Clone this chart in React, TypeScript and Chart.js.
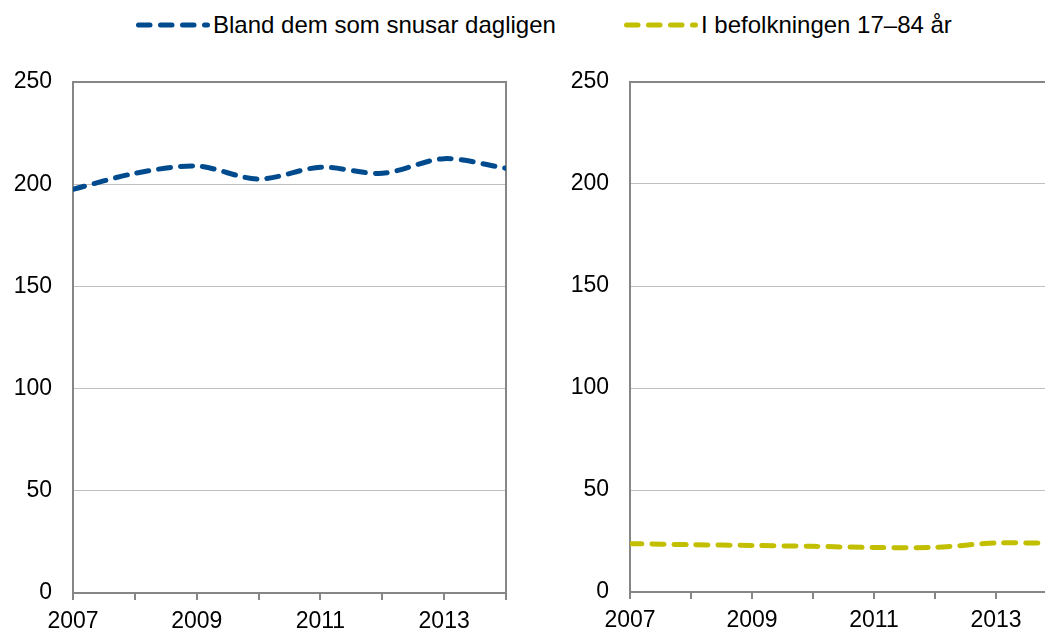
import React, { useEffect, useRef } from "react";
import { Chart, registerables } from "chart.js";

Chart.register(...registerables);

const years = [2007, 2008, 2009, 2010, 2011, 2012, 2013, 2014];
const dailyUsers = [197.5, 205.3, 208.9, 202.5, 208.3, 205.3, 212.5, 207.8];
const population = [23.7, 23.2, 22.8, 22.4, 21.8, 21.9, 24.0, 23.9];
const yTicks = [0, 50, 100, 150, 200, 250];
const seriesNames = ["Bland dem som snusar dagligen", "I befolkningen 17–84 år"];
const seriesColors = ["#004B8D", "#C2BF00"];

const FONT = "'Liberation Sans', Arial, sans-serif";
const AXIS = "#868686";
const GRID = "#C0C0C0";

const framePlugin = {
  id: "frame",
  beforeDatasetsDraw(chart: any) {
    const { ctx, chartArea } = chart;
    ctx.save();
    ctx.strokeStyle = AXIS;
    ctx.lineWidth = 2;
    ctx.beginPath();
    ctx.moveTo(chartArea.left, chartArea.top);
    ctx.lineTo(chartArea.right, chartArea.top);
    ctx.lineTo(chartArea.right, chartArea.bottom);
    ctx.stroke();
    ctx.restore();
  },
};

function makeConfig(values: number[], color: string, label: string, xHeight: number) {
  return {
    type: "line" as const,
    data: {
      datasets: [
        {
          label,
          data: years.map((y, i) => ({ x: y, y: values[i] })),
          borderColor: color,
          backgroundColor: color,
          borderWidth: 5,
          borderDash: [12, 10],
          borderCapStyle: "round" as const,
          pointRadius: 0,
          tension: 0.3,
          fill: false,
        },
      ],
    },
    options: {
      responsive: false,
      animation: false as const,
      devicePixelRatio: 1,
      layout: { padding: { top: 82, right: 14, left: 0, bottom: 0 } },
      plugins: { legend: { display: false }, tooltip: { enabled: false } },
      scales: {
        x: {
          type: "linear" as const,
          min: years[0],
          max: years[years.length - 1],
          afterFit: (s: any) => {
            s.height = xHeight;
          },
          ticks: {
            stepSize: 1,
            autoSkip: false,
            maxRotation: 0,
            padding: 8,
            color: "#000",
            font: { family: FONT, size: 23 },
            callback: (v: any) => (Number(v) % 2 === 1 ? String(v) : ""),
          },
          grid: { drawOnChartArea: false, drawTicks: true, tickLength: 7, color: AXIS, lineWidth: 2 },
          border: { display: true, color: AXIS, width: 2 },
        },
        y: {
          min: yTicks[0],
          max: yTicks[yTicks.length - 1],
          afterFit: (s: any) => {
            s.width = 73;
          },
          afterBuildTicks: (s: any) => {
            s.ticks = yTicks.map((v) => ({ value: v }));
          },
          ticks: {
            padding: 21,
            color: "#000",
            font: { family: FONT, size: 23 },
          },
          grid: { color: GRID, lineWidth: 1, drawTicks: false },
          border: { display: true, color: AXIS, width: 2 },
        },
      },
    },
    plugins: [framePlugin],
  };
}

function LegendItem({ left, color, text }: { left: number; color: string; text: string }) {
  return (
    <div
      style={{
        position: "absolute",
        left,
        top: 8,
        height: 34,
        display: "flex",
        alignItems: "center",
        fontFamily: FONT,
        fontSize: 24,
        color: "#000",
        whiteSpace: "nowrap",
      }}
    >
      <svg width={75} height={10} style={{ marginRight: 2 }}>
        <line
          x1={2.5}
          y1={5}
          x2={71.5}
          y2={5}
          stroke={color}
          strokeWidth={5}
          strokeLinecap="round"
          strokeDasharray="11.5 10.5"
        />
      </svg>
      <span>{text}</span>
    </div>
  );
}

export default function App() {
  const leftRef = useRef<HTMLCanvasElement>(null);
  const rightRef = useRef<HTMLCanvasElement>(null);

  useEffect(() => {
    const c1 = new Chart(leftRef.current!, makeConfig(dailyUsers, seriesColors[0], seriesNames[0], 38) as any);
    const c2 = new Chart(rightRef.current!, makeConfig(population, seriesColors[1], seriesNames[1], 39) as any);
    return () => {
      c1.destroy();
      c2.destroy();
    };
  }, []);

  return (
    <div
      style={{
        position: "fixed",
        left: 0,
        top: 0,
        width: 1045,
        height: 631,
        overflow: "hidden",
        background: "#fff",
      }}
    >
      <LegendItem left={136} color={seriesColors[0]} text={seriesNames[0]} />
      <LegendItem left={624} color={seriesColors[1]} text={seriesNames[1]} />
      <canvas ref={leftRef} width={520} height={631} style={{ position: "absolute", left: 0, top: 0 }} />
      <canvas ref={rightRef} width={514} height={631} style={{ position: "absolute", left: 557, top: 0 }} />
    </div>
  );
}
